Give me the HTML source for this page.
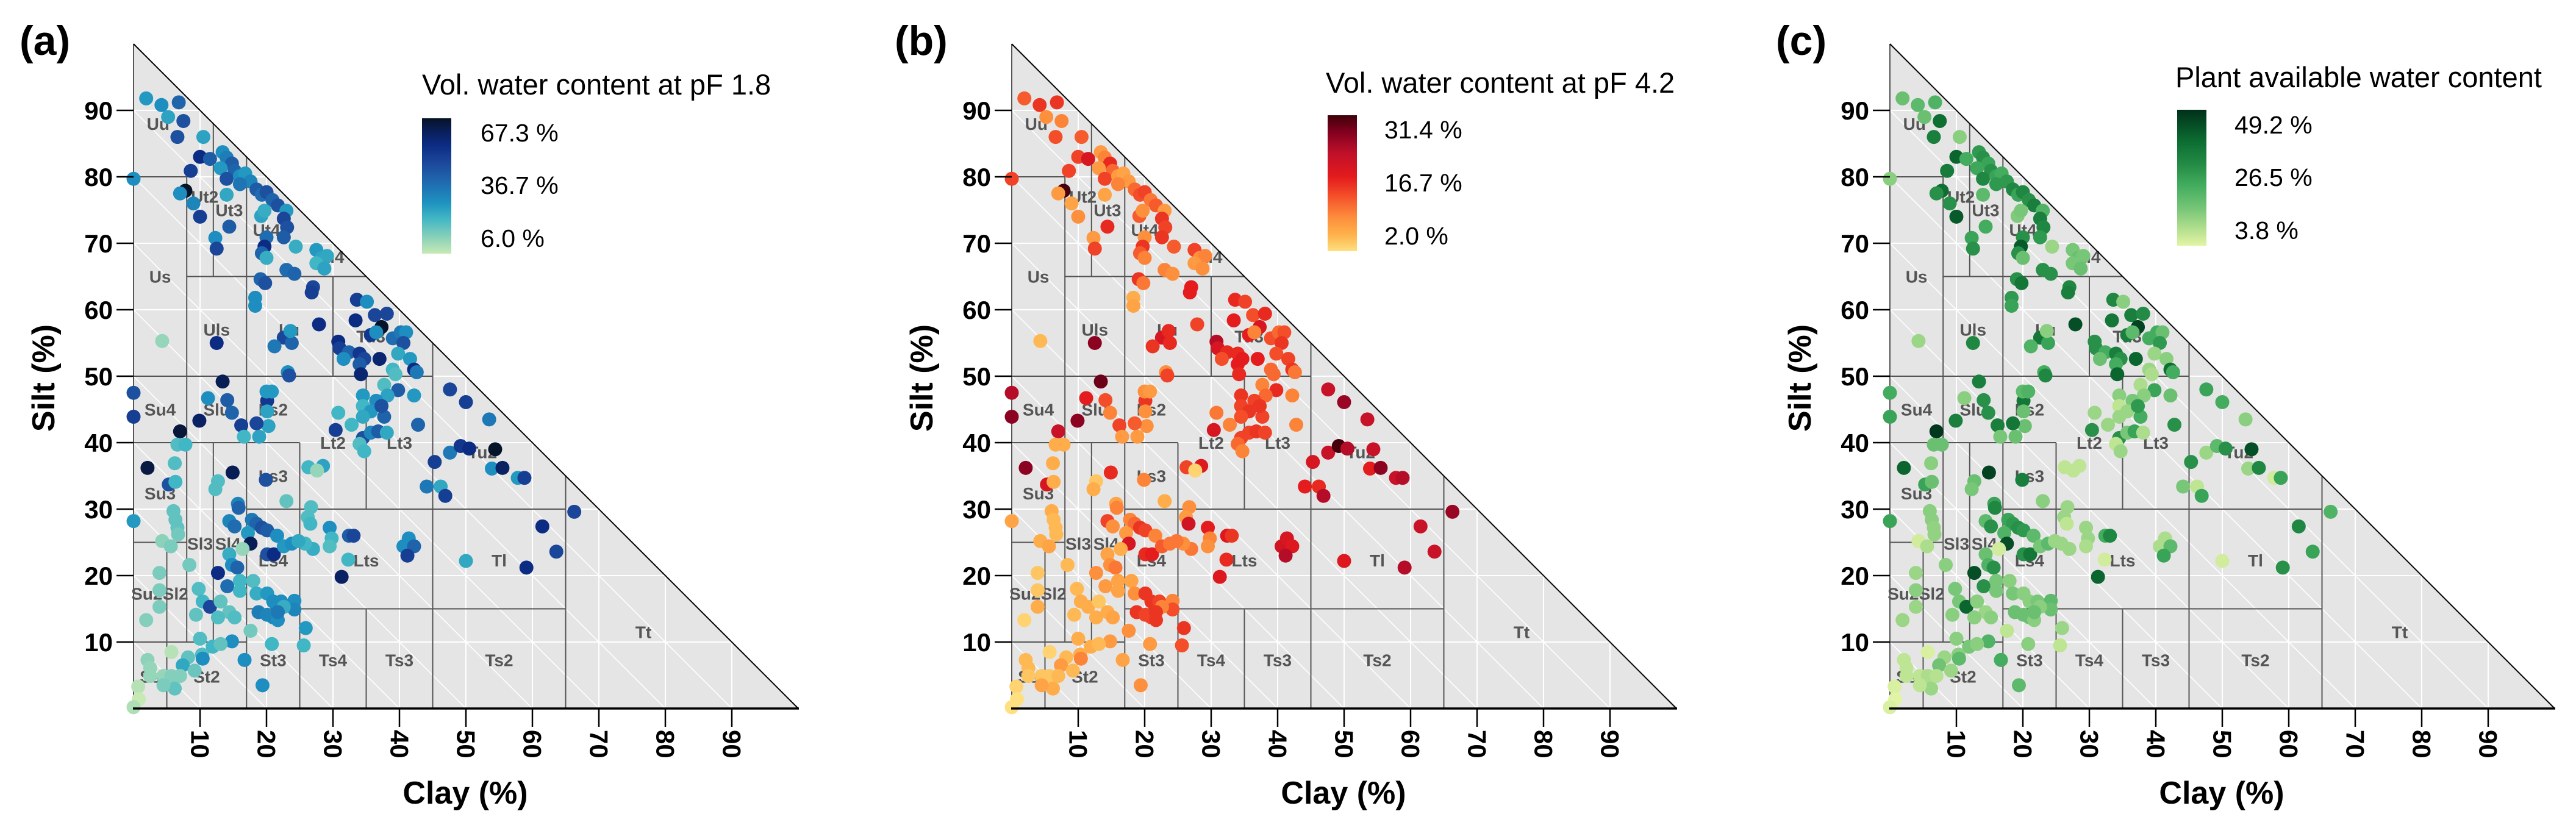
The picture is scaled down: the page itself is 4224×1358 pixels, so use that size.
<!DOCTYPE html>
<html><head><meta charset="utf-8"><style>
html,body{margin:0;padding:0;background:#fff;}
svg{display:block;font-family:"Liberation Sans",Arial,sans-serif;}
</style></head><body>
<svg id="fig" xmlns="http://www.w3.org/2000/svg" width="4224" height="1358" viewBox="0 0 4224 1358"></svg>
<script>
// ---- data ----
const clay=[1.9,4.2,6.8,5.2,7.5,6.6,10.5,10,11.5,8.6,0,7.8,7,9,10,14.4,12.3,12.5,13.4,14,14.8,13.1,15.2,14,16,16.8,17.6,18.5,19.3,20,20.9,21.7,23,14,16,19.2,19.7,22.6,23.1,22.6,20,19.7,19.3,20,24.4,27.5,28.3,29.1,27.5,28.7,23,24.2,19.1,19.8,18.3,18.3,27,26.8,27.9,22.6,23.8,23.6,21.2,23.2,23.4,12.5,4.3,13.4,11.2,14.1,14.8,9.9,7,0,0,20.1,20,20.8,20.1,20.3,18.5,16.2,18.9,16.6,6.6,7.8,2.1,6.2,14.9,12.7,12.3,5.3,6.3,19.9,23,0,6,6.3,6.6,6.7,4.3,5.6,3.9,3.9,3.9,1.9,8.4,15.7,15.8,14.4,15.2,17.8,18.5,19.3,17.2,20.1,17.6,16.4,20.1,21.1,21.6,22.6,23.8,14.4,14.8,15.6,12.7,14.1,16,18,16,18.5,20.1,21,22.2,24.2,24.2,18.8,20.1,21,21.7,22.6,21.7,9.8,10.4,11.5,9.4,13.1,14.4,15.2,12.7,17.6,20.8,25.9,25.6,14.8,10,11.9,13.1,10.3,8.2,5.7,7.4,10.4,9.2,16.7,19.4,2.1,2.5,4.5,5.7,6.2,4.5,7,0.7,0.8,0,2.5,33.6,35.1,33.4,36.3,38.1,37.3,35.7,36.5,30.8,31,32.4,31.6,34,34.7,37,34,34.2,39,40.2,41,40.6,39.8,41.6,42.2,42.6,39,39.4,37.7,39.8,42.2,38.2,36.5,34.5,34.5,35.7,37.7,37.3,34.5,30.8,30.4,32.8,34.5,35.7,36.8,38.1,34,34.7,42.8,47.6,50,53.5,45.3,47.6,49.2,50.5,54.4,53.9,55.5,57.8,58.8,44.1,46.2,46.9,66.3,61.5,63.6,59.1,50,26.3,28.5,27.6,26.7,26.2,26.6,29.5,29.8,29.5,32.4,33.1,32.3,31.3,40.6,41.4,42.2,41.2,27,25.8,24.8];
const silt=[91.8,90.8,91.2,89,88.4,86,86,83,82.7,80.9,79.7,77.9,77.5,76,74,72.5,70.8,69.2,83.7,82.9,82,81.3,80.9,79.7,80.1,80.5,79.3,78.1,77.3,77.7,76.5,75.7,74.9,77.3,78.9,74.1,74.9,73.7,72.4,70.9,70.9,69.5,68.5,67.8,69.5,69,67.8,68.1,67,66.2,66,65.4,64.6,64,61.8,60.6,63.4,62.6,57.8,55.8,55,56.8,54.5,50.6,50.1,55,55.3,49.2,46.7,46.4,44.5,43.3,41.7,47.5,43.9,46.3,47.7,47.7,44.7,42.5,42.9,42.6,40.9,40.9,39.7,39.7,36.2,36.9,35.5,34.2,33,33.7,34.1,34.4,31.2,28.2,29.7,28.4,27.2,26.2,25.2,24.4,20.4,17.8,15.3,13.3,21.6,30.8,30.2,28.2,27.4,28.4,27.8,27.2,26.4,26.8,24.8,24,23.2,23.2,26,24.4,24.8,23.2,21.6,21.2,20.4,18.4,19.2,19.2,17.7,17.3,17.3,16.1,16.1,16.2,14.9,14.5,14.1,13.7,13.3,15.3,14.5,18,16.1,15.3,14.1,16.1,14.5,13.7,13.7,11.7,9.7,12.1,9.5,10.1,10.5,9.3,9.7,8.1,7.7,8.5,6.5,7.5,5.7,7.3,3.5,7.3,6.1,4.9,4.9,3,3.5,4.9,3.3,1.4,0.2,4.9,61.5,61.2,58.4,59.2,59.4,57.4,56.2,56.6,55.2,54.2,53.6,52.6,53.4,52.6,52.6,51.8,50.3,55.7,56.6,56.6,55,53.4,52.6,51,50.6,51,50.3,48.7,47.9,47.1,47.1,46.3,47.1,45.5,44.7,43.9,45.5,43.9,44.5,41.9,42.7,40.7,41.5,41.7,41.5,39.8,38.7,42.7,48,46.1,43.5,37.1,38.5,39.5,39.1,39,36.1,36.2,34.7,34.7,33.4,33.4,32,29.6,27.4,23.6,21.2,22.2,36.3,36.5,35.8,30.3,28.8,27.8,27.2,25.6,24.4,26,26,22.4,19.8,24.4,25.6,24.4,23,24,24.8,25.2];
const pf18=[28,30,40,26,45,45,26,55,42,50,30,67,30,32,50,42,30,48,30,34,42,28,40,45,30,28,32,42,38,45,40,45,28,25,36,26,24,48,45,42,38,55,40,24,24,28,26,25,22,26,38,40,40,45,30,30,48,50,55,48,40,28,35,30,45,55,12,62,30,42,40,60,65,45,50,52,28,28,26,26,48,50,26,22,20,22,64,20,62,20,20,45,22,45,18,28,18,18,18,16,13,15,15,15,15,14,16,32,40,32,38,35,40,45,28,42,62,12,45,55,30,28,30,24,30,40,55,38,22,20,22,24,28,30,30,30,32,34,32,32,30,24,35,20,22,48,18,18,18,20,20,16,22,28,22,30,20,22,18,20,18,8,25,30,17,30,30,13,12,12,14,18,15,14,8,6,9,12,50,30,55,48,48,67,52,30,55,50,40,30,52,48,58,42,58,38,35,30,45,25,28,55,35,22,20,20,42,28,26,30,28,22,28,40,45,25,22,50,22,45,32,42,25,20,22,40,48,50,35,50,35,52,55,67,30,60,28,50,35,25,50,48,55,48,55,25,22,26,12,20,20,22,30,22,20,42,48,22,60,30,30,40,50,24,22,25];
const pf42=[13,16,16,9,10,14,13,15,20,15,15,31,8,7,9,17,8,15,8,10,17,8,12,15,8,7,8,12,14,15,11,13,8,7,10,13,9,16,15,16,9,16,13,10,13,15,9,10,8,9,10,9,16,11,6,7,18,18,15,20,17,17,16,9,15,27,5,29,18,14,10,27,22,24,27,16,9,8,9,9,13,15,8,8,6,6,27,6,17,4,6,20,6,10,6,7,6,5,5,5,6,7,4,4,6,3,5,7,10,15,9,10,12,16,8,15,20,6,17,18,10,13,11,7,9,11,9,8,7,7,7,9,16,16,15,10,14,16,15,15,16,10,16,5,6,6,5,4,6,7,6,9,8,16,14,8,6,6,5,6,5,3,8,10,5,7,9,5,5,4,4,6,7,5,3,2,2,4,17,15,18,14,17,20,18,10,24,20,17,14,17,18,18,18,17,14,12,14,16,14,15,16,11,12,12,10,17,10,12,15,16,15,16,15,16,14,11,20,10,15,15,16,15,12,10,10,22,26,22,20,22,31,24,22,18,27,22,24,18,17,24,26,22,22,24,19,15,19,3,9,8,21,18,10,9,19,16,17,19,21,20,19,24,11,9,11];
const paw=[18,20,22,18,38,34,14,40,24,35,14,38,30,30,42,24,26,30,28,30,26,25,30,32,26,24,28,32,26,32,30,34,22,20,28,15,16,34,32,28,30,42,30,18,12,16,18,16,16,18,30,30,30,36,28,26,32,34,44,36,26,14,22,24,32,32,12,34,14,30,30,34,48,24,26,36,20,22,18,18,36,34,18,16,18,18,40,14,46,18,16,26,18,34,14,26,14,14,13,13,6,10,12,14,12,12,14,26,32,20,30,26,28,30,22,28,44,6,30,36,20,16,20,18,22,30,44,30,16,14,16,16,14,14,16,20,18,18,18,18,14,14,18,16,16,40,14,14,12,14,14,8,14,12,8,22,14,16,14,14,12,5,17,20,12,24,20,8,8,8,10,12,8,9,5,4,5,8,32,14,36,34,31,46,34,20,30,30,24,18,34,30,40,24,40,24,24,18,28,12,14,38,24,12,10,10,26,18,14,16,14,8,12,24,28,12,12,30,12,30,16,26,10,8,12,30,26,24,14,30,12,20,30,44,12,32,6,26,16,8,26,22,32,26,30,6,8,8,8,12,12,8,12,12,10,24,32,6,40,10,10,20,26,12,12,12];
const classLabels=["Uu","Ut2","Ut3","Ut4","Tu4","Us","Uls","Lu","Tu3","Su4","Slu","Ls2","Lt2","Lt3","Tu2","Ls3","Su3","Sl3","Sl4","Ls4","Lts","Tl","Su2","Sl2","Tt","St3","Ts4","Ts3","Ts2","Ss","St2"];
const labelClay=[3.7,10.7,14.4,20,29.5,4,12.5,23.4,35.7,4,12.5,21,30,40,52.5,21,4,10,14.2,21,35,55,2,6.3,76.7,21,30,40,55,2.5,11];
const labelSilt=[88,77,75,72,68,65,57,57,56,45,45,45,40,40,38.6,35,32.4,24.8,24.8,22.3,22.3,22.3,17.3,17.3,11.5,7.3,7.3,7.3,7.3,4.8,4.8];
const tickVals=[10,20,30,40,50,60,70,80,90];
const legendTitles=["Vol. water content at pF 1.8","Vol. water content at pF 4.2","Plant available water content"];
const legendLabels=[["67.3 %","36.7 %","6.0 %"],["31.4 %","16.7 %","2.0 %"],["49.2 %","26.5 %","3.8 %"]];
const legendRanges=[[6.0,67.3],[2.0,31.4],[3.8,49.2]];
const panelLetters=["(a)","(b)","(c)"];
const seriesList=[pf18,pf42,paw];
const bounds=[[0,80,8,80],[8,65,35,65],[0,50,45,50],[0,40,25,40],[17,30,65,30],[0,25,8,25],[17,15,65,15],[0,10,17,10],
[5,0,5,25],[8,10,8,80],[12,10,12,40],[12,65,12,88],[17,0,17,83],[25,0,25,40],[30,50,30,65],[35,30,35,50],[35,0,35,15],[45,0,45,55],[65,0,65,35]];

// ---- style ----
const stops=[
 [[0,"#c7e9b4"],[0.14,"#7fcdbb"],[0.26,"#41b6c4"],[0.38,"#1d91c0"],[0.52,"#1f6cb0"],[0.66,"#1d4a9c"],[0.8,"#0c2c84"],[0.9,"#0a1f5c"],[1,"#061326"]],
 [[0,"#ffe080"],[0.12,"#feb24c"],[0.25,"#fd8d3c"],[0.4,"#f4512a"],[0.55,"#e31a1c"],[0.72,"#c0102a"],[0.88,"#80001f"],[1,"#3f0008"]],
 [[0,"#e3f4a5"],[0.12,"#b3e08f"],[0.28,"#74c476"],[0.45,"#41ab5d"],[0.6,"#238b45"],[0.78,"#0b6a30"],[1,"#00301a"]]];
const legPos=[{tx:692,ty:155,bx:692,by0:194,by1:416,lx:788,ly:[217,303,390]},
{tx:734,ty:152,bx:737,by0:189,by1:412,lx:830,ly:[212,299,386]},
{tx:687,ty:143,bx:690,by0:180,by1:403,lx:784,ly:[204,290,377]}];
const letterX=[32,27,32];
const NS="http://www.w3.org/2000/svg";
const X0=219,Y0=1162,U=10.9;
const sx=c=>X0+c*U, sy=s=>Y0-s*U;
function hex(h){return [1,3,5].map(i=>parseInt(h.substr(i,2),16));}
function colorAt(st,t){t=Math.max(0,Math.min(1,t));for(let i=1;i<st.length;i++){if(t<=st[i][0]){const a=st[i-1],b=st[i];const f=(t-a[0])/(b[0]-a[0]);const A=hex(a[1]),B=hex(b[1]);return "rgb("+A.map((v,k)=>Math.round(v+(B[k]-v)*f)).join(",")+")";}}return st[st.length-1][1];}
function mk(tag,attrs,parent){const e=document.createElementNS(NS,tag);for(const k in attrs)e.setAttribute(k,attrs[k]);parent.appendChild(e);return e;}
const svg=document.getElementById('fig');
const defs=mk('defs',{},svg);

for(let p=0;p<3;p++){
 const g=mk('g',{transform:'translate('+(p*1440)+',0)'},svg);
 
 
 const cp=mk('clipPath',{id:'clip'+p},defs);
 mk('polygon',{points:sx(0)+','+sy(0)+' '+sx(100)+','+sy(0)+' '+sx(0)+','+sy(100)},cp);
 const bg=mk('polygon',{points:sx(0)+','+sy(0)+' '+sx(100)+','+sy(0)+' '+sx(0)+','+sy(100),fill:'#e5e5e5'},g);
 
 
 const grid=mk('g',{stroke:'#ffffff','stroke-width':2,'clip-path':'url(#clip'+p+')'},g);
 
 
 tickVals.forEach(v=>{
  mk('line',{x1:sx(v),y1:sy(0),x2:sx(v),y2:sy(100-v)},grid);
  mk('line',{x1:sx(0),y1:sy(v),x2:sx(100-v),y2:sy(v)},grid);
  mk('line',{x1:sx(0),y1:sy(v),x2:sx(v),y2:sy(0),'stroke-width':1.6},grid);
 });
 const bl=mk('g',{stroke:'#555','stroke-width':2},g);
 
 
 bounds.forEach(b=>mk('line',{x1:sx(b[0]),y1:sy(b[1]),x2:sx(b[2]),y2:sy(b[3])},bl));
 mk('line',{x1:sx(0),y1:sy(0),x2:sx(0),y2:sy(100),stroke:'#555','stroke-width':2},g);
 classLabels.forEach((t,i)=>{
  const e=mk('text',{x:sx(labelClay[i]),y:sy(labelSilt[i])+10,'text-anchor':'middle','font-size':28,'font-weight':'bold',fill:'#555'},g);
  e.textContent=t;
  
  
 });
 const vals=seriesList[p],rng=legendRanges[p];
 const pg=mk('g',{},g);
 
 
 for(let i=0;i<clay.length;i++){
  const c=mk('circle',{cx:sx(clay[i]),cy:sy(silt[i]),r:11.5,fill:colorAt(stops[p],(vals[i]-rng[0])/(rng[1]-rng[0]))},pg);
  
  
 }
 mk('line',{x1:sx(0),y1:sy(100),x2:sx(100),y2:sy(0),stroke:'#000','stroke-width':2},g);
 mk('line',{x1:sx(0)-1,y1:sy(0),x2:sx(100)+1,y2:sy(0),stroke:'#000','stroke-width':3.5},g);
 tickVals.forEach(v=>{
  mk('line',{x1:sx(v),y1:sy(0),x2:sx(v),y2:sy(0)+30,stroke:'#000','stroke-width':2.5},g);
  const t=mk('text',{x:0,y:0,'font-size':42,'font-weight':'bold','dominant-baseline':'central',transform:'translate('+sx(v)+','+(sy(0)+35)+') rotate(90)'},g);
  t.textContent=v;
  
  
  mk('line',{x1:sx(0)-28,y1:sy(v),x2:sx(0),y2:sy(v),stroke:'#000','stroke-width':2.5},g);
  const ty=mk('text',{x:sx(0)-34,y:sy(v)+15,'font-size':42,'font-weight':'bold','text-anchor':'end'},g);
  ty.textContent=v;
  
  
 });
 const xt=mk('text',{x:763,y:1318,'font-size':52,'font-weight':'bold','text-anchor':'middle'},g);
 xt.textContent='Clay (%)';
 
 
 const yt=mk('text',{x:0,y:0,'font-size':52,'font-weight':'bold','text-anchor':'middle',transform:'translate(89,620) rotate(-90)'},g);
 yt.textContent='Silt (%)';
 
 
 const pl=mk('text',{x:letterX[p],y:90,'font-size':68,'font-weight':'bold'},g);
 pl.textContent=panelLetters[p];
 
 
 const L=legPos[p];
 const lg=mk('g',{},g);
 
 
 const tt=mk('text',{x:L.tx,y:L.ty,'font-size':47},lg);
 tt.textContent=legendTitles[p];
 
 
 const gr=mk('linearGradient',{id:'grad'+p,x1:0,y1:1,x2:0,y2:0},defs);
 stops[p].forEach(s=>mk('stop',{offset:s[0],'stop-color':s[1]},gr));
 const bar=mk('rect',{x:L.bx,y:L.by0,width:48,height:L.by1-L.by0,fill:'url(#grad'+p+')'},lg);
 
 
 legendLabels[p].forEach((t,i)=>{
  const e=mk('text',{x:L.lx,y:L.ly[i]+15,'font-size':41},lg);
  e.textContent=t;
  
  
 });
}
</script>
</body></html>
